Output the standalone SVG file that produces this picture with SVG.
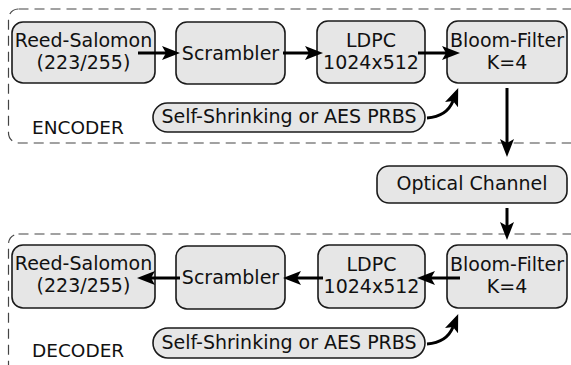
<svg xmlns="http://www.w3.org/2000/svg" width="571" height="365" viewBox="0 0 571 365">
<style>
.grp{fill:none;stroke:#444;stroke-width:1.2;stroke-dasharray:10,6}
.box{fill:#e6e6e6;stroke:#1a1a1a;stroke-width:1.6}
.t{font-family:"DejaVu Sans",sans-serif;font-size:19px;fill:#111;text-anchor:middle}
.lbl{font-family:"DejaVu Sans",sans-serif;font-size:18.5px;fill:#111}
.c{fill:none;stroke:#000;stroke-width:3;marker-end:url(#ah)}
</style>
<defs>
<marker id="ah" markerUnits="userSpaceOnUse" markerWidth="20" markerHeight="16" refX="4" refY="7" orient="auto">
<path d="M0,0 L18,7 L0,14 L4,7 Z" fill="#000"/>
</marker>
</defs>
<g id="encoder-group">
<rect class="grp" x="8.5" y="9" width="600" height="134" rx="10"/>
<text class="lbl" x="32" y="134">ENCODER</text>
</g>
<g id="decoder-group">
<rect class="grp" x="8.5" y="234" width="600" height="200" rx="10"/>
<text class="lbl" x="32" y="357">DECODER</text>
</g>
<g id="enc-rs"><rect class="box" x="12" y="22" width="143" height="61" rx="11"/><text class="t" x="83.5" y="47">Reed-Salomon</text><text class="t" x="83.5" y="69">(223/255)</text></g>
<g id="enc-scr"><rect class="box" x="176" y="22" width="109" height="62" rx="11"/><text class="t" x="230.5" y="60">Scrambler</text></g>
<g id="enc-ldpc"><rect class="box" x="317" y="21" width="108" height="62" rx="11"/><text class="t" x="371" y="47">LDPC</text><text class="t" x="371" y="69">1024x512</text></g>
<g id="enc-bloom"><rect class="box" x="447" y="21" width="120" height="62" rx="11"/><text class="t" x="507" y="47">Bloom-Filter</text><text class="t" x="507" y="69">K=4</text></g>
<g id="enc-prbs"><rect class="box" x="153" y="103" width="272" height="29" rx="14.5"/><text class="t" x="289" y="123">Self-Shrinking or AES PRBS</text></g>
<g id="optical"><rect class="box" x="377" y="166" width="190" height="37" rx="12"/><text class="t" x="472" y="190">Optical Channel</text></g>
<g id="dec-rs"><rect class="box" x="12" y="245" width="143" height="63" rx="11"/><text class="t" x="83.5" y="270">Reed-Salomon</text><text class="t" x="83.5" y="292">(223/255)</text></g>
<g id="dec-scr"><rect class="box" x="176" y="246" width="109" height="63" rx="11"/><text class="t" x="230.5" y="284">Scrambler</text></g>
<g id="dec-ldpc"><rect class="box" x="318" y="245" width="107" height="63" rx="11"/><text class="t" x="371.5" y="271">LDPC</text><text class="t" x="371.5" y="293">1024x512</text></g>
<g id="dec-bloom"><rect class="box" x="447" y="245" width="120" height="63" rx="11"/><text class="t" x="507" y="271">Bloom-Filter</text><text class="t" x="507" y="293">K=4</text></g>
<g id="dec-prbs"><rect class="box" x="153" y="328" width="272" height="30" rx="15"/><text class="t" x="289" y="349">Self-Shrinking or AES PRBS</text></g>
<g id="connectors">
<path class="c" d="M138,53 H166"/>
<path class="c" d="M283,53 H309"/>
<path class="c" d="M418,53 H446"/>
<path class="c" d="M427,118 C440,117 449,111 453,101"/>
<path class="c" d="M507,88 V143"/>
<path class="c" d="M507,208 V226"/>
<path class="c" d="M460,278 H431"/>
<path class="c" d="M323,278 H297"/>
<path class="c" d="M180,278 H151"/>
<path class="c" d="M427,344 C440,343 449,337 453,327"/>
</g>
</svg>
